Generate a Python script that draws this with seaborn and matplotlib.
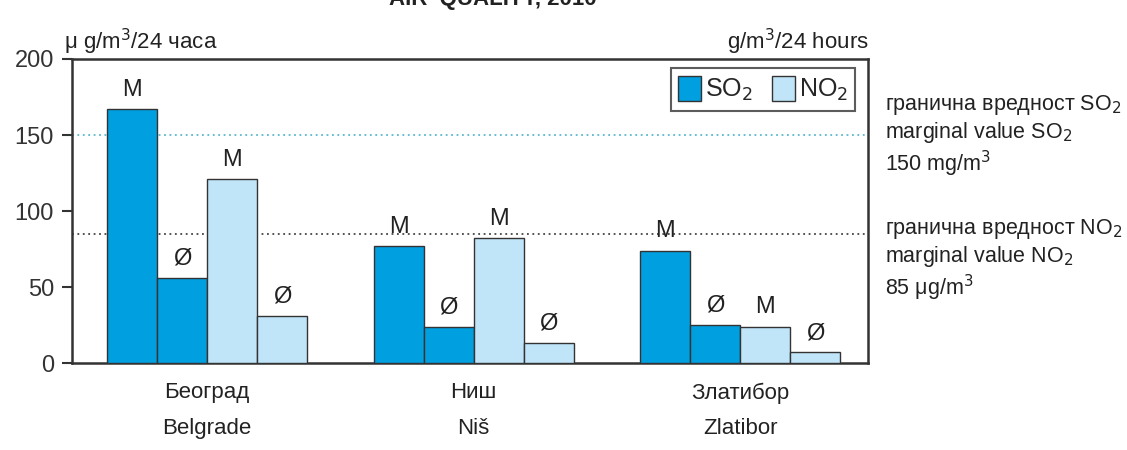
import numpy as np
import pandas as pd
import matplotlib
matplotlib.use("Agg")
import matplotlib.pyplot as plt
import seaborn as sns
from matplotlib.patches import Patch

cities = ["Београд\nBelgrade", "Ниш\nNiš", "Златибор\nZlatibor"]
series = ["SO2 M", "SO2 Ø", "NO2 M", "NO2 Ø"]
marks = ["M", "Ø", "M", "Ø"]
so2_max = [167, 77, 74]
so2_avg = [56, 24, 25]
no2_max = [121, 82, 24]
no2_avg = [31, 13, 7]
limit_so2 = 150
limit_no2 = 85

dark = "#009fe0"
light = "#c0e4f8"

sns.set_theme(style="white")
fonts = ["Liberation Sans Narrow", "Liberation Sans", "DejaVu Sans"]
plt.rcParams["font.family"] = fonts

rows = []
for i, c in enumerate(cities):
    for s, v in zip(series, [so2_max[i], so2_avg[i], no2_max[i], no2_avg[i]]):
        rows.append({"city": c, "series": s, "value": v})
df = pd.DataFrame(rows)

fig = plt.figure(figsize=(11.27, 4.5), dpi=100)
ax = fig.add_axes([0.0639, 0.1933, 0.7063, 0.6756])

sns.barplot(data=df, x="city", y="value", hue="series", hue_order=series,
            palette=[dark, dark, light, light], saturation=1, width=0.75, gap=0,
            edgecolor="#333333", linewidth=1.0, legend=False, ax=ax, zorder=3)

# marker letters above bars
for cont, m in zip(ax.containers, marks):
    ax.bar_label(cont, labels=[m] * len(cont), padding=6, fontsize=17, color="#222222")

ax.axhline(limit_so2, color="#5bb8cc", linestyle=(0, (1, 2)), linewidth=1.3, zorder=2)
ax.axhline(limit_no2, color="#444444", linestyle=(0, (1, 2)), linewidth=1.3, zorder=2)

ax.set_ylim(0, 200)
ax.set_xlim(-0.507, 2.48)
ax.set_yticks([0, 50, 100, 150, 200])
ax.tick_params(axis="y", labelsize=17, length=7, width=1.5, color="#333333",
               labelcolor="#333333", left=True, pad=6)
ax.tick_params(axis="x", labelsize=16, length=0, pad=14, labelcolor="#222222")
ax.set_xlabel("")
ax.set_ylabel("")
for sp in ["left", "bottom", "right", "top"]:
    ax.spines[sp].set_color("#333333")
    ax.spines[sp].set_linewidth(1.8)
for lbl in ax.get_xticklabels():
    lbl.set_linespacing(1.9)

leg = ax.legend(handles=[Patch(facecolor=dark, edgecolor="#333333", label="SO$_2$"),
                         Patch(facecolor=light, edgecolor="#333333", label="NO$_2$")],
                loc="upper right", ncol=2, fontsize=18, frameon=True, fancybox=False,
                handlelength=0.9, handleheight=1.2, handletextpad=0.15, columnspacing=0.8,
                borderpad=0.3, borderaxespad=0, bbox_to_anchor=(0.984, 0.97))
leg.get_frame().set_edgecolor("#333333")
leg.get_frame().set_linewidth(1.5)

fig.text(0.057, 0.89, "μ g/m$^3$/24 часа", fontsize=16, color="#222222", va="baseline")
fig.text(0.771, 0.89, "g/m$^3$/24 hours", fontsize=16, color="#222222", va="baseline", ha="right")
fig.text(0.4375, 1.0, "AIR  QUALITY, 2010", fontsize=16, fontweight="bold",
         color="#222222", va="center", ha="center", family=["Liberation Sans", "DejaVu Sans"])

fig.text(0.785, 0.698, "гранична вредност SO$_2$\nmarginal value SO$_2$\n150 mg/m$^3$",
         fontsize=15.5, color="#222222", va="center", linespacing=1.15)
fig.text(0.785, 0.422, "гранична вредност NO$_2$\nmarginal value NO$_2$\n85 μg/m$^3$",
         fontsize=15.5, color="#222222", va="center", linespacing=1.15)

fig.savefig("out.png", dpi=100)
